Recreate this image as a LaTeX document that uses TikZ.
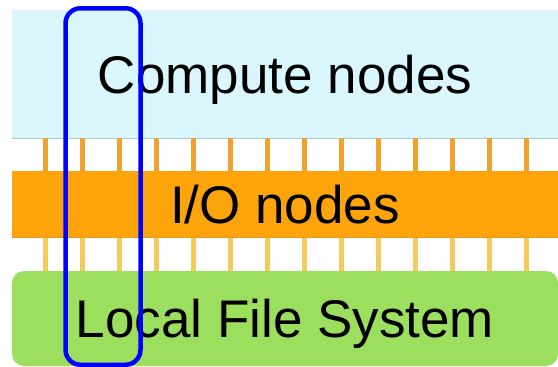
\documentclass[tikz,border=0pt]{standalone}
\usepackage{fontspec}
\setmainfont{Liberation Sans}
\usetikzlibrary{positioning,calc}

\definecolor{computebg}{HTML}{D9F7FD}
\definecolor{computeln}{HTML}{A9C9D2}
\definecolor{iobg}{HTML}{FDA40A}
\definecolor{ioln}{HTML}{E39A2C}
\definecolor{fsbg}{HTML}{9CDE5E}
\definecolor{upbar}{HTML}{F0A22E}
\definecolor{lowbar}{HTML}{F5CB5E}

\begin{document}
\begin{tikzpicture}[x=1pt, y=-1pt,
          font=\fontsize{53}{60}\selectfont,
          box/.style={minimum width=546pt, inner sep=0pt,
                      text height=38pt, text depth=0pt, text centered},
          link/.style={line width=5pt}]
        \useasboundingbox (0,0) rectangle (558,367);
        \node[box, fill=computebg, minimum height=128pt] (compute) at (285,74) {Compute nodes};
        \node[box, fill=iobg, minimum height=66pt] (io) at (285,204) {I/O nodes};
        \node[box, fill=fsbg, minimum height=95pt, rounded corners=12pt] (fs) at (285,318.5) {Local File System};
        \draw[computeln, line width=1pt] (compute.south west) -- (compute.south east);
        \draw[ioln, line width=1pt] (io.south west) -- (io.south east);
        % links between the layers
        \foreach \x in {45,82,...,527} {
          \draw[link, upbar] (compute.south -| \x,0) -- (io.north -| \x,0);
          \draw[link, lowbar] ([yshift=-1pt]io.south -| \x,0) -- (fs.north -| \x,0);
        }
        % one column across all layers
        \node[draw=blue, line width=4.5pt, rounded corners=15pt, inner sep=0pt,
              minimum width=75pt, minimum height=356.5pt] (column) at (103,186.5) {};
      \end{tikzpicture}
\end{document}
